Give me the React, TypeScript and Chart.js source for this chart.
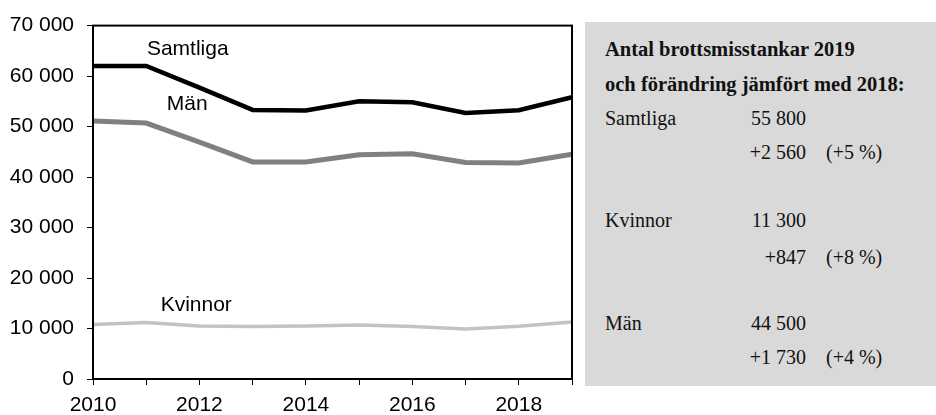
import React, { useEffect, useRef } from "react";
import { Chart, registerables } from "chart.js";

Chart.register(...registerables);

const years = ["2010", "2011", "2012", "2013", "2014", "2015", "2016", "2017", "2018", "2019"];
const samtliga = [62000, 62000, 57700, 53300, 53200, 55000, 54800, 52700, 53240, 55800];
const man = [51100, 50700, 46900, 43000, 43000, 44400, 44600, 42900, 42770, 44500];
const kvinnor = [10800, 11200, 10500, 10400, 10500, 10700, 10400, 9900, 10450, 11300];

const seriesNames = ["Samtliga", "Män", "Kvinnor"];
// label anchor positions (x index, y value)
const labelX = [1.78, 1.77, 1.94];
const labelY = [65400, 54500, 14600];

const panelTitle = ["Antal brottsmisstankar 2019", "och förändring jämfört med 2018:"];
const panelLabels = ["Samtliga", "Kvinnor", "Män"];
const panelValues = ["55 800", "11 300", "44 500"];
const panelChanges = ["+2 560", "+847", "+1 730"];
const panelPcts = ["(+5 %)", "(+8 %)", "(+4 %)"];

const fmt = (v: number) => String(v).replace(/\B(?=(\d{3})+(?!\d))/g, " ");

const SANS = "'Liberation Sans', Arial, sans-serif";
const SERIF = "'Liberation Serif', 'Times New Roman', serif";

export default function App() {
  const ref = useRef<HTMLCanvasElement | null>(null);

  useEffect(() => {
    if (!ref.current) return;
    const boxPlugin = {
      id: "boxAndLabels",
      afterDraw(chart: any) {
        const { ctx, chartArea, scales } = chart;
        ctx.save();
        ctx.strokeStyle = "#000";
        ctx.lineWidth = 2;
        ctx.strokeRect(chartArea.left, chartArea.top, chartArea.right - chartArea.left, chartArea.bottom - chartArea.top);
        ctx.fillStyle = "#000";
        ctx.font = `21px ${SANS}`;
        ctx.textAlign = "center";
        ctx.textBaseline = "middle";
        seriesNames.forEach((n, i) => {
          ctx.fillText(n, scales.x.getPixelForValue(labelX[i]), scales.y.getPixelForValue(labelY[i]));
        });
        ctx.restore();
      },
    };

    const chart = new Chart(ref.current, {
      type: "line",
      data: {
        labels: years,
        datasets: [
          { label: "Samtliga", data: samtliga, borderColor: "#000000", borderWidth: 4.5, pointRadius: 0, tension: 0 },
          { label: "Män", data: man, borderColor: "#808080", borderWidth: 5, pointRadius: 0, tension: 0 },
          { label: "Kvinnor", data: kvinnor, borderColor: "#c3c3c3", borderWidth: 3.5, pointRadius: 0, tension: 0 },
        ],
      },
      options: {
        animation: false,
        responsive: false,
        maintainAspectRatio: false,
        layout: { padding: { left: 0, top: 25, right: 13, bottom: 0 } },
        plugins: { legend: { display: false }, tooltip: { enabled: false } },
        scales: {
          x: {
            type: "category",
            offset: false,
            grid: { display: true, drawOnChartArea: false, drawTicks: true, tickLength: 6, color: "#000", lineWidth: 1 },
            border: { display: true, color: "#000", width: 2 },
            ticks: {
              autoSkip: false,
              maxRotation: 0,
              padding: 8,
              color: "#000",
              font: { family: SANS, size: 21 },
              callback: (_v: any, i: number) => (i % 2 === 0 ? years[i] : ""),
            },
            afterFit: (s: any) => {
              s.height = 36;
            },
          },
          y: {
            min: 0,
            max: 70000,
            grid: { display: true, drawOnChartArea: false, drawTicks: true, tickLength: 6, color: "#000", lineWidth: 1 },
            border: { display: true, color: "#000", width: 2 },
            ticks: {
              stepSize: 10000,
              padding: 13,
              color: "#000",
              font: { family: SANS, size: 21 },
              callback: (v: any) => fmt(Number(v)),
            },
            afterFit: (s: any) => {
              s.width = 93;
            },
          },
        },
      },
      plugins: [boxPlugin],
    } as any);
    return () => chart.destroy();
  }, []);

  const rowTops = [118, 220, 323];
  const changeTops = [152, 257, 357];
  const lh = 24;
  const txt: React.CSSProperties = { position: "absolute", lineHeight: `${lh}px`, whiteSpace: "nowrap", color: "#111" };

  return (
    <div style={{ position: "absolute", left: 0, top: 0, width: 936, height: 415, background: "#fff", overflow: "hidden" }}>
      <canvas ref={ref} width={585} height={415} style={{ position: "absolute", left: 0, top: 0, width: 585, height: 415 }} />
      <div style={{ position: "absolute", left: 585, top: 22, width: 351, height: 364, background: "#d9d9d9", fontFamily: SERIF }}>
        {panelTitle.map((t, i) => (
          <div key={t} style={{ ...txt, left: 20, top: [49, 84][i] - 22 - lh / 2, fontWeight: "bold", fontSize: 20.5 }}>
            {t}
          </div>
        ))}
        {panelLabels.map((l, i) => (
          <React.Fragment key={l}>
            <div style={{ ...txt, left: 20, top: rowTops[i] - 22 - lh / 2, fontSize: 20 }}>{l}</div>
            <div style={{ ...txt, right: 351 - 221, top: rowTops[i] - 22 - lh / 2, fontSize: 20, textAlign: "right" }}>{panelValues[i]}</div>
            <div style={{ ...txt, right: 351 - 221, top: changeTops[i] - 22 - lh / 2, fontSize: 20, textAlign: "right" }}>{panelChanges[i]}</div>
            <div style={{ ...txt, left: 241, top: changeTops[i] - 22 - lh / 2, fontSize: 20 }}>{panelPcts[i]}</div>
          </React.Fragment>
        ))}
      </div>
    </div>
  );
}
